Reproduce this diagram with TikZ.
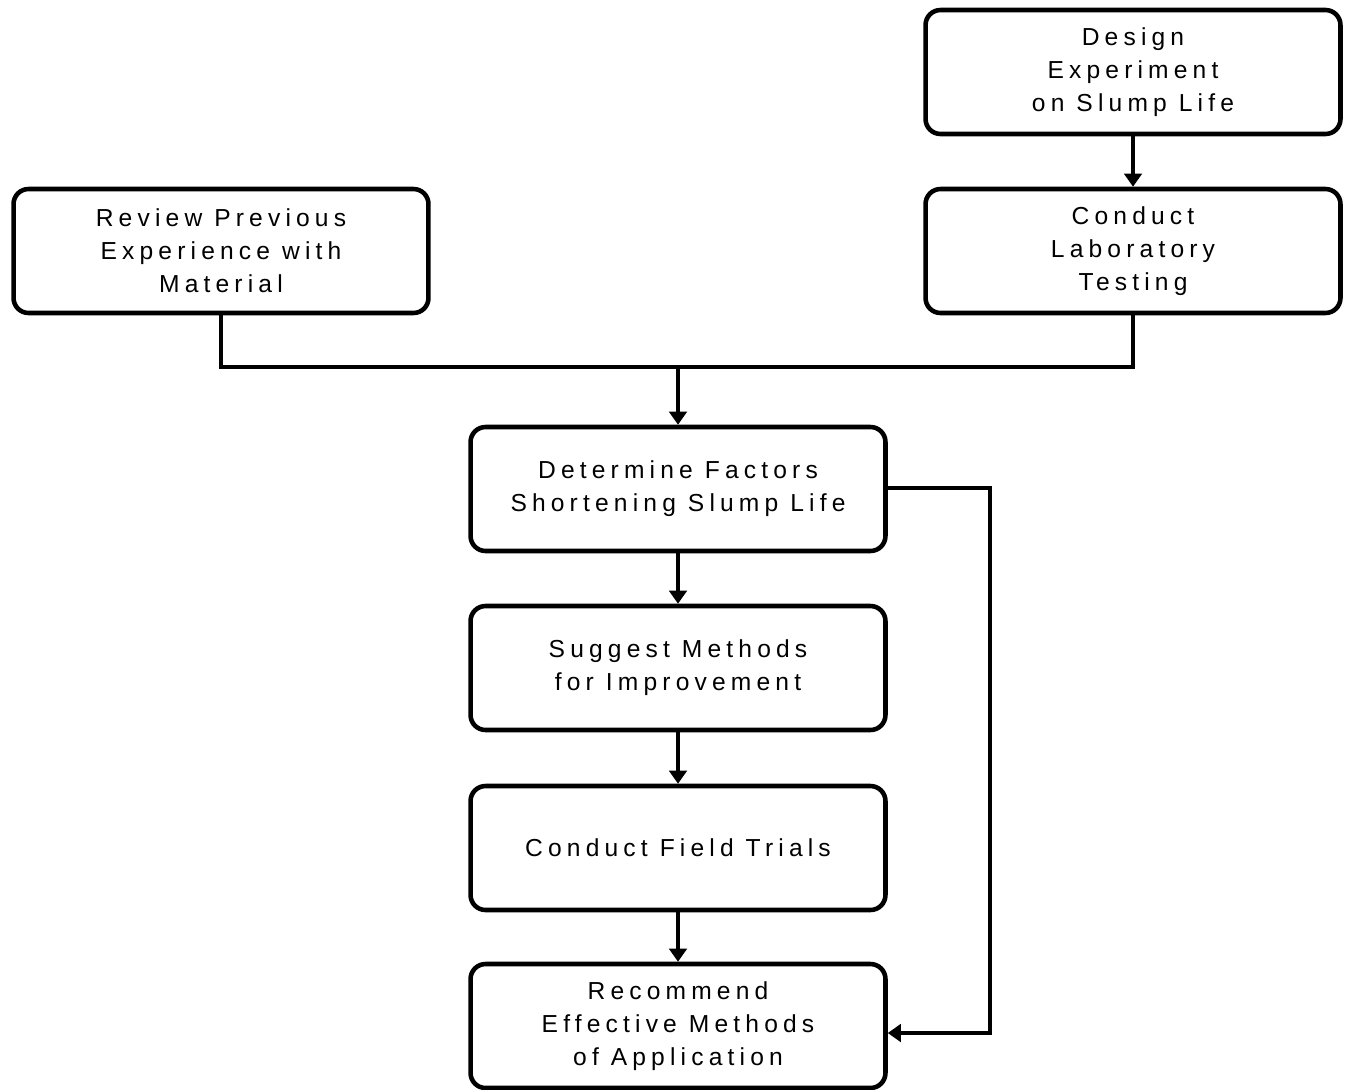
\documentclass[tikz,border=0pt]{standalone}
\usepackage{fontspec}
\setmainfont{Liberation Sans}[LetterSpace=21]
\usetikzlibrary{arrows.meta}
\begin{document}
\begin{tikzpicture}[x=0.02cm,y=-0.02cm,
  box/.style={draw, line width=2.6pt, rounded corners=0.3cm,
    minimum width=8.3cm, minimum height=2.48cm, align=center,
    inner sep=0pt, font=\fontsize{14}{18.7}\selectfont},
  flow/.style={line width=2.3pt, -{Triangle[width=10pt,length=7.5pt]}},
  link/.style={line width=2.3pt}]
\useasboundingbox (0,0) rectangle (1348,1089);

% process steps
\node[box] (design)    at (1133,72)   {Design\\Experiment\\on Slump Life};
\node[box] (lab)       at (1133,251)  {Conduct\\Laboratory\\Testing};
\node[box] (review)    at (221,251)   {Review Previous\\Experience with\\Material};
\node[box] (determine) at (678,489)   {Determine Factors\\Shortening Slump Life};
\node[box] (suggest)   at (678,668)   {Suggest Methods\\for Improvement};
\node[box] (field)     at (678,848)   {Conduct Field Trials};
\node[box] (recommend) at (678,1026)  {Recommend\\Effective Methods\\of Application};

% junction points
\coordinate (merge) at (678,367);
\coordinate (sideA) at (990,488);
\coordinate (sideB) at (990,1033);

% connectors
\draw[flow] (design) -- (lab);
\draw[link] (review.south) |- (merge) -| (lab.south);
\draw[flow] (merge) -- (determine.north);
\draw[flow] (determine) -- (suggest);
\draw[flow] (suggest) -- (field);
\draw[flow] (field) -- (recommend);
\draw[flow] (determine.east |- sideA) -- (sideA) -- (sideB) -- (recommend.east |- sideB);
\end{tikzpicture}
\end{document}
